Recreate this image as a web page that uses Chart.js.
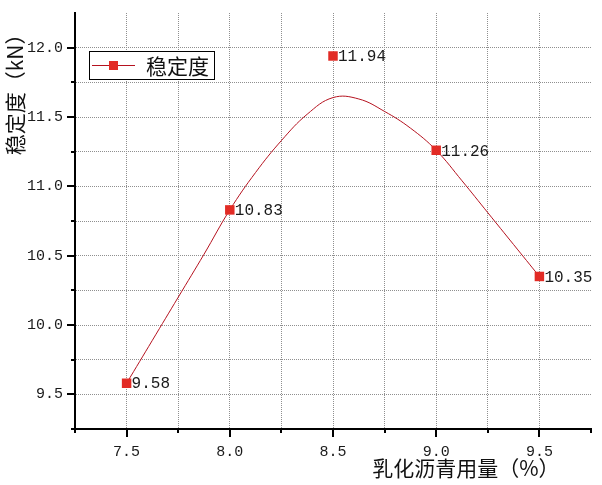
<!DOCTYPE html>
<html>
<head>
<meta charset="utf-8">
<script src="https://cdn.jsdelivr.net/npm/chart.js@4.4.1/dist/chart.umd.min.js"></script>
<style>
html,body{margin:0;padding:0;background:#fff;overflow:hidden}
#wrap{width:602px;height:485px;position:relative;background:#fff}
</style>
</head>
<body>
<div id="wrap"><canvas id="c" width="602" height="485"></canvas></div>
<script>
// ---- data ----
const asphaltContent = [7.5, 8.0, 8.5, 9.0, 9.5];          // x categories (%)
const stability      = [9.58, 10.83, 11.94, 11.26, 10.35];  // measured values (kN)
// fitted curve as read off the picture
const curveX = [7.5, 7.625, 7.75, 7.875, 8.0, 8.125, 8.25, 8.375, 8.5, 8.625, 8.75, 8.875, 9.0, 9.125, 9.25, 9.375, 9.5];
const curveY = [9.58, 9.89, 10.20, 10.51, 10.83, 11.10, 11.33, 11.52, 11.64, 11.63, 11.54, 11.42, 11.26, 11.04, 10.81, 10.58, 10.35];
const seriesName = '稳定度';
const xTitle = '乳化沥青用量（%）';
const yTitle = '稳定度（kN）';
const xRange = [7.25, 9.75];
const yRange = [9.25, 12.25];
const tickStep = 0.25;

const RED = '#e22b25';
const LINE_RED = '#b5121f';
const NUM_FONT = '"Liberation Mono", "DejaVu Sans Mono", monospace';
const CJK_FONT = '"Noto Sans CJK SC", "Noto Sans", sans-serif';

const isMajor = v => Math.abs(v * 2 - Math.round(v * 2)) < 1e-6;
const near = (a, b) => Math.abs(a - b) < 1e-6;

const points = asphaltContent.map((x, i) => ({x, y: stability[i]}));
const curve = curveX.map((x, i) => ({x, y: curveY[i]}));

const tickMarks = {
  id: 'tickMarks',
  afterDraw(chart) {
    const {ctx, chartArea: a, scales: {x, y}} = chart;
    ctx.save();
    ctx.strokeStyle = '#000';
    ctx.lineWidth = 2;
    x.ticks.forEach(t => {
      const p = Math.round(x.getPixelForValue(t.value));
      ctx.beginPath();
      ctx.moveTo(p, a.bottom);
      ctx.lineTo(p, a.bottom + (isMajor(t.value) ? 8 : 4));
      ctx.stroke();
    });
    y.ticks.forEach(t => {
      if (near(t.value, yRange[1])) return;
      const p = Math.round(y.getPixelForValue(t.value));
      ctx.beginPath();
      ctx.moveTo(a.left, p);
      ctx.lineTo(a.left - (isMajor(t.value) ? 8 : 4), p);
      ctx.stroke();
    });
    ctx.restore();
  }
};

const valueLabels = {
  id: 'valueLabels',
  afterDatasetsDraw(chart) {
    const {ctx} = chart;
    const meta = chart.getDatasetMeta(0);
    ctx.save();
    ctx.font = '16px ' + NUM_FONT;
    ctx.fillStyle = '#1a1a1a';
    ctx.textAlign = 'left';
    ctx.textBaseline = 'middle';
    meta.data.forEach((el, i) => {
      ctx.fillText(stability[i].toFixed(2), el.x + 5, el.y + 1);
    });
    ctx.restore();
  }
};

const boxLegend = {
  id: 'boxLegend',
  afterDraw(chart) {
    const {ctx, chartArea: a} = chart;
    const bx = a.left + 14, by = a.top + 38, bw = 125, bh = 28;
    const cy = by + bh / 2;
    ctx.save();
    ctx.fillStyle = '#fff';
    ctx.fillRect(bx, by, bw, bh);
    ctx.strokeStyle = '#000';
    ctx.lineWidth = 1;
    ctx.strokeRect(bx + 0.5, by + 0.5, bw, bh);
    ctx.strokeStyle = LINE_RED;
    ctx.beginPath();
    ctx.moveTo(bx + 3, cy + 0.5);
    ctx.lineTo(bx + 46, cy + 0.5);
    ctx.stroke();
    ctx.fillStyle = RED;
    ctx.fillRect(bx + 20, cy - 4, 9, 9);
    ctx.fillStyle = '#111';
    ctx.font = '21px ' + CJK_FONT;
    ctx.textAlign = 'left';
    ctx.textBaseline = 'middle';
    ctx.fillText(seriesName, bx + 57, cy + 1);
    ctx.restore();
  }
};

const gridColor = ctx => {
  const v = ctx.tick ? ctx.tick.value : null;
  const s = ctx.scale;
  if (v === null || near(v, s.min) || near(v, s.max)) return 'rgba(0,0,0,0)';
  return '#8f8f8f';
};

new Chart(document.getElementById('c'), {
  type: 'scatter',
  data: {
    datasets: [
      {
        label: seriesName,
        data: points,
        showLine: false,
        pointStyle: 'rect',
        pointRadius: 6.7,
        pointHoverRadius: 6.7,
        backgroundColor: RED,
        borderColor: RED,
        borderWidth: 0,
        order: 0
      },
      {
        label: 'fit',
        data: curve,
        showLine: true,
        borderColor: LINE_RED,
        borderWidth: 1,
        pointRadius: 0,
        pointHoverRadius: 0,
        tension: 0.4,
        fill: false,
        order: 1
      }
    ]
  },
  options: {
    responsive: false,
    animation: false,
    events: [],
    layout: {padding: {top: 13, right: 11, left: 0, bottom: 0}},
    plugins: {legend: {display: false}, tooltip: {enabled: false}},
    scales: {
      x: {
        type: 'linear',
        min: xRange[0],
        max: xRange[1],
        afterFit(s) { s.height = 56; s.paddingLeft = 0; s.paddingRight = 0; },
        ticks: {
          stepSize: tickStep,
          autoSkip: false,
          maxRotation: 0,
          padding: 14,
          color: '#1a1a1a',
          font: {family: NUM_FONT, size: 15},
          callback: v => isMajor(v) ? Number(v).toFixed(1) : ''
        },
        grid: {color: gridColor, lineWidth: 1, drawTicks: false},
        border: {display: true, color: '#000', width: 2, dash: [1, 1]},
        title: {
          display: true,
          text: xTitle + '\u3000\u3000',
          align: 'end',
          color: '#111',
          font: {family: CJK_FONT, size: 21},
          padding: {top: 0, bottom: 4}
        }
      },
      y: {
        type: 'linear',
        min: yRange[0],
        max: yRange[1],
        afterFit(s) { s.width = 75; s.paddingTop = 0; s.paddingBottom = 0; },
        ticks: {
          stepSize: tickStep,
          autoSkip: false,
          padding: 12,
          color: '#1a1a1a',
          font: {family: NUM_FONT, size: 15},
          callback: v => isMajor(v) ? Number(v).toFixed(1) : ''
        },
        grid: {color: gridColor, lineWidth: 1, drawTicks: false},
        border: {display: true, color: '#000', width: 2, dash: [1, 1]},
        title: {
          display: true,
          text: yTitle + '\u3000',
          align: 'end',
          color: '#111',
          font: {family: CJK_FONT, size: 21},
          padding: {top: 2, bottom: 0}
        }
      }
    }
  },
  plugins: [tickMarks, valueLabels, boxLegend]
});
</script>
</body>
</html>
